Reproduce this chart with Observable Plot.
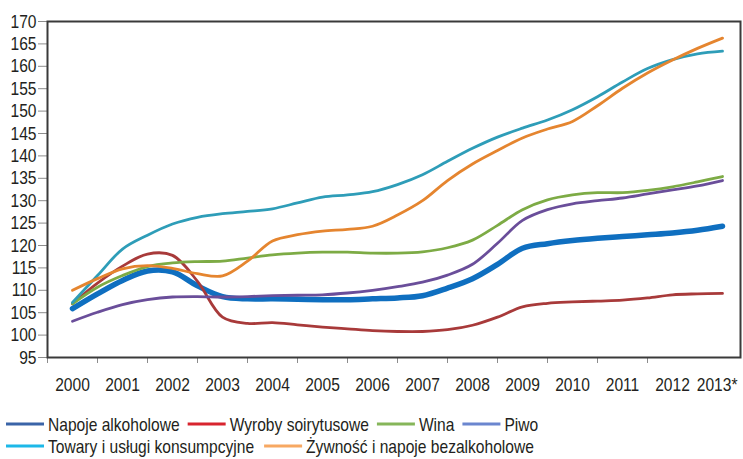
<!DOCTYPE html>
<html>
<head>
<meta charset="utf-8">
<script src="https://cdn.jsdelivr.net/npm/d3@7"></script>
<script src="https://cdn.jsdelivr.net/npm/@observablehq/plot@0.6"></script>
<style>
  body { margin: 0; background: #fff; }
  #chart { width: 743px; height: 459px; overflow: hidden; background: #fff; }
  #chart svg { display: block; }
</style>
</head>
<body>
<div id="chart"></div>
<script>
// ---- data ----
const periods = [2000, 2000.5, 2001, 2001.5, 2002, 2002.5, 2003, 2003.5, 2004, 2004.5, 2005, 2005.5, 2006, 2006.5,
  2007, 2007.5, 2008, 2008.5, 2009, 2009.5, 2010, 2010.5, 2011, 2011.5, 2012, 2012.5, 2013];
const years = [2000, 2001, 2002, 2003, 2004, 2005, 2006, 2007, 2008, 2009, 2010, 2011, 2012, 2013];
const yearLabels = ["2000", "2001", "2002", "2003", "2004", "2005", "2006", "2007", "2008", "2009", "2010", "2011", "2012", "2013*"];
const yTicks = [95, 100, 105, 110, 115, 120, 125, 130, 135, 140, 145, 150, 155, 160, 165, 170];
const seriesNames = ["Napoje alkoholowe", "Wyroby soirytusowe", "Wina", "Piwo", "Towary i usługi konsumpcyjne", "Żywność i napoje bezalkoholowe"];

const napoje = [105.9, 109.2, 112.2, 114.3, 114.1, 111.0, 108.6, 108.1, 108.1, 108.0, 107.9, 107.9, 108.1, 108.3,
  108.8, 110.5, 112.6, 115.8, 119.4, 120.4, 121.1, 121.6, 122.0, 122.4, 122.8, 123.4, 124.3];
const wyroby = [107.0, 111.6, 115.4, 118.1, 117.8, 112.0, 104.0, 102.6, 102.8, 102.3, 101.8, 101.4, 101.0, 100.8,
  100.8, 101.2, 102.2, 104.0, 106.3, 107.1, 107.4, 107.6, 107.8, 108.3, 109.0, 109.2, 109.3];
const wina = [107.0, 110.7, 113.3, 115.3, 116.1, 116.4, 116.5, 117.2, 117.9, 118.3, 118.5, 118.5, 118.3, 118.3,
  118.6, 119.5, 121.2, 124.5, 128.0, 130.2, 131.3, 131.8, 131.8, 132.3, 133.1, 134.2, 135.4];
const piwo = [103.1, 105.1, 106.8, 107.9, 108.5, 108.6, 108.5, 108.6, 108.8, 108.9, 109.0, 109.4, 110.0, 110.8,
  111.8, 113.4, 115.8, 120.5, 125.6, 128.0, 129.3, 130.0, 130.6, 131.5, 132.4, 133.3, 134.5];
const towary = [107.3, 113.3, 119.2, 122.3, 124.8, 126.3, 127.1, 127.6, 128.2, 129.5, 130.8, 131.3, 132.0, 133.6,
  135.8, 138.8, 141.7, 144.2, 146.2, 148.0, 150.3, 153.2, 156.5, 159.5, 161.5, 162.8, 163.4];
const zywnosc = [110.0, 112.6, 114.8, 115.5, 114.9, 113.7, 113.2, 116.5, 121.0, 122.4, 123.2, 123.6, 124.3, 126.8,
  130.0, 134.5, 138.2, 141.2, 144.0, 146.0, 147.7, 151.2, 155.1, 158.5, 161.4, 164.0, 166.3];
const seriesValues = [napoje, wyroby, wina, piwo, towary, zywnosc];

// ---- styles ----
const lineColors = ["#0f6fc0", "#a83a3a", "#7dab45", "#6a4e9a", "#2e9db8", "#e5852f"];
const lineWidths = [5.5, 2.8, 2.8, 2.8, 2.8, 2.8];
const legendColors = ["#3a64a8", "#d8242e", "#86b65a", "#6b86cf", "#1cb8e8", "#f7a862"];
const font = '"Liberation Sans", Arial, sans-serif';
const textColor = "#231f20";
const narrow = 0.82; // condensed look of the original font

const rows = [];
seriesNames.forEach((name, s) => periods.forEach((t, i) => rows.push({ name, t, v: seriesValues[s][i] })));

const bandEdges = years.slice(0, 13).map(y => y - 0.5);

const chart = Plot.plot({
  width: 743,
  height: 400,
  marginLeft: 47,
  marginRight: 3,
  marginTop: 21,
  marginBottom: 43,
  x: { domain: [1999.5, 2013.36] },
  y: { domain: [95, 170] },
  style: { fontFamily: font, fontSize: "19px", color: textColor, background: "white", overflow: "visible" },
  marks: [
    Plot.axisY({ ticks: yTicks, tickSize: 9, tickPadding: 2, stroke: "#8c8c8c", fill: textColor, tickFormat: d => String(d), label: null }),
    Plot.axisX({ ticks: bandEdges, tickSize: 6, tickFormat: () => "", stroke: "#8c8c8c", label: null }),
    Plot.axisX({ ticks: years, tickSize: 0, tickPadding: 20, tickFormat: d => yearLabels[years.indexOf(d)], fill: textColor, label: null }),
    ...seriesNames.map((name, s) => Plot.line(rows.filter(d => d.name === name), {
      x: "t", y: "v", stroke: lineColors[s], strokeWidth: lineWidths[s], curve: "catmull-rom", strokeLinecap: "round"
    })),
    Plot.frame({ stroke: "#3a3a3a", strokeWidth: 2 })
  ]
});

const root = document.getElementById("chart");
root.appendChild(chart);

// condense axis texts
chart.querySelectorAll("text").forEach(t => {
  const len = t.getComputedTextLength();
  if (len > 0) {
    t.setAttribute("textLength", (len * narrow).toFixed(2));
    t.setAttribute("lengthAdjust", "spacingAndGlyphs");
    if (t.textContent === "2013*") {
      t.setAttribute("text-anchor", "end");
      t.setAttribute("dx", "15");
    }
  }
});

// ---- legend (below the plot) ----
const legend = d3.select(root).append("svg")
  .attr("width", 743).attr("height", 59)
  .style("display", "block")
  .attr("font-family", font).attr("font-size", 19).attr("fill", textColor);

const legendRows = [[0, 1, 2, 3], [4, 5]];
const rowY = [24, 46];
const gaps = [8, 10];
legendRows.forEach((idxs, r) => {
  let x = 6;
  idxs.forEach(s => {
    legend.append("line")
      .attr("x1", x).attr("x2", x + 38).attr("y1", rowY[r]).attr("y2", rowY[r])
      .attr("stroke", legendColors[s]).attr("stroke-width", 3);
    const t = legend.append("text")
      .attr("x", x + 42).attr("y", rowY[r]).attr("dy", "0.36em")
      .text(seriesNames[s]);
    const len = t.node().getComputedTextLength() * narrow;
    t.attr("textLength", len.toFixed(2)).attr("lengthAdjust", "spacingAndGlyphs");
    x += 42 + len + gaps[r];
  });
});
</script>
</body>
</html>
